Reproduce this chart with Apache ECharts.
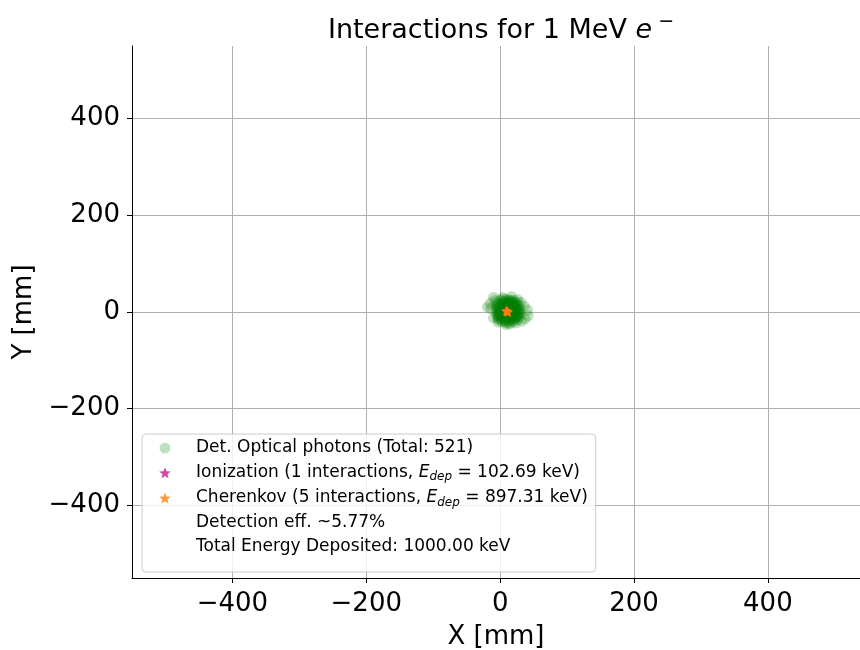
<!DOCTYPE html>
<html><head><meta charset="utf-8">
<script src="https://cdn.jsdelivr.net/npm/echarts@6/dist/echarts.min.js"></script>
<style>html,body{margin:0;padding:0;background:#fff}#c{width:860px;height:650px}</style>
</head><body><div id="c"></div>
<script>
// ---- data ----
const xTicks = [-400, -200, 0, 200, 400];
const yTicks = [-400, -200, 0, 200, 400];
// detected optical photons (x, y) in mm (overlapping points estimated)
const photonPoints = [
  [-10,30],[17,32],[31,20],[41,4],[42,-8],[32,-19],[23,-23],[9,-26],[-3,-21],[-14,7],
  [-15,18],[-19,10],[4,30],[-8,24],[36,12],[37,-14],[-10,-12],[14,-25],[26,26],
  [-5,20],[0,25],[5,27],[10,26],[15,25],[20,24],[25,20],[28,14],[30,6],[30,-3],
  [29,-10],[26,-16],[20,-20],[14,-22],[8,-22],[2,-20],[-3,-15],[-5,-8],[-6,0],[-6,8],
  [-5,14],[0,18],[6,20],[12,19],[18,18],[23,13],[25,5],[24,-4],[22,-11],[16,-15],
  [9,-16],[3,-13],[-1,-6],[0,3],[0,11],[5,12],[10,13],[16,11],[19,4],[18,-4],
  [14,-9],[7,-9],[4,-3],[5,5],[10,6],[14,2],[11,-3],[8,0],[12,8],[20,-10],
  [2,-10],[0,0],[5,5],[10,10],[15,5],[20,0],[25,-5],[15,-10],[5,-10],[0,10],
  [-3,5],[10,-5],[20,15],[25,10],[28,5],[27,-8],[18,-15],[8,-18],[-3,-12],[-4,-3],
  [2,18],[12,20],[22,20],[-2,2],[3,-4],[8,3],[13,-2],[17,8],[24,2],[6,12],
  [16,14],[-4,15],[28,-2],[24,16],[11,-13],[19,-6],[1,-15],[9,22],[17,22],[-4,8],
  [4,22],[14,0],[21,-16],[-1,-6],[7,7],[23,-12],[12,15],[2,12],[4,0],[9,-1],
  [14,4],[18,2],[22,6],[6,-6],[11,7],[16,-4],[20,10],[1,5],[8,14],[13,9],
  [3,-9],[24,-2],[10,18],[28,2],[15,-17],[6,-14],[19,18],[12,-8],[2,2],[17,-10],
  [7,17],[26,-10],[-3,-8],[9,-20],[14,24],[5,2],[10,4],[15,1],[20,4],[8,-3]
];
const ionizationPoints = [[8, 3]];
const cherenkovPoints = [[10,2],[11,1],[9,3],[12,0],[10,1]];

const names = {
  photons: 'Det. Optical photons (Total: 521)',
  ion: 'Ionization (1 interactions, Edep = 102.69 keV)',
  cher: 'Cherenkov (5 interactions, Edep = 897.31 keV)',
  eff: 'Detection eff. ~5.77%',
  tot: 'Total Energy Deposited: 1000.00 keV'
};
const richNames = {};
richNames[names.photons] = 'Det. Optical photons (Total: 521)';
richNames[names.ion] = 'Ionization (1 interactions, {it|E}{sub|dep} = 102.69 keV)';
richNames[names.cher] = 'Cherenkov (5 interactions, {it|E}{sub|dep} = 897.31 keV)';
richNames[names.eff] = 'Detection eff. ~5.77%';
richNames[names.tot] = 'Total Energy Deposited: 1000.00 keV';

const FONT = 'DejaVu Sans';
const star = 'path://M12,1 L14.9,8.6 L23,9 L16.7,14.2 L18.8,22 L12,17.6 L5.2,22 L7.3,14.2 L1,9 L9.1,8.6 Z';
const minus = v => String(v).replace('-', '\u2212');

const chart = echarts.init(document.getElementById('c'), null, {renderer: 'canvas'});
chart.setOption({
  animation: false,
  backgroundColor: '#fff',
  title: {
    text: 'Interactions for 1 MeV {e|e}{sup|\u2212}',
    left: 496, top: 8, textAlign: 'center',
    textStyle: {
      fontFamily: FONT, fontSize: 27, fontWeight: 'normal', color: '#000',
      rich: {
        e: {fontFamily: FONT, fontSize: 27, fontStyle: 'italic', color: '#000'},
        sup: {fontFamily: FONT, fontSize: 19, color: '#000', padding: [0, 0, 16, 6]}
      }
    }
  },
  grid: {left: 132, right: 0, top: 46, bottom: 72, containLabel: false, outerBoundsMode: 'none'},
  xAxis: {
    type: 'value', min: -550, max: 537.6,
    name: 'X [mm]', nameLocation: 'middle', nameGap: 46,
    nameTextStyle: {fontFamily: FONT, fontSize: 26, color: '#000'},
    axisLine: {show: true, onZero: false, lineStyle: {color: '#000', width: 1}},
    axisTick: {show: true, length: 5, inside: false, customValues: xTicks, lineStyle: {color: '#000'}},
    axisLabel: {customValues: xTicks, margin: 13, fontFamily: FONT, fontSize: 26, color: '#000', formatter: minus},
    splitLine: {show: true, lineStyle: {color: '#b0b0b0', width: 1}}
  },
  yAxis: {
    type: 'value', min: -550, max: 550,
    name: 'Y [mm]', nameLocation: 'middle', nameGap: 92, nameRotate: 90,
    nameTextStyle: {fontFamily: FONT, fontSize: 26, color: '#000'},
    axisLine: {show: true, onZero: false, lineStyle: {color: '#000', width: 1}},
    axisTick: {show: true, length: 5, inside: false, customValues: yTicks, lineStyle: {color: '#000'}},
    axisLabel: {customValues: yTicks, margin: 12, fontFamily: FONT, fontSize: 26, color: '#000',
      padding: [9, 0, 0, 0], formatter: minus},
    splitLine: {show: true, lineStyle: {color: '#b0b0b0', width: 1}}
  },
  legend: {
    orient: 'vertical', left: 142, top: 434,
    padding: [4, 8, 15, 10],
    itemWidth: 26, itemHeight: 11, itemGap: 4.25,
    backgroundColor: 'rgba(255,255,255,0.8)',
    borderColor: '#cccccc', borderWidth: 1, borderRadius: 4,
    data: [
      {name: names.photons, icon: 'circle', itemStyle: {color: 'rgba(0,128,0,0.3)'}},
      {name: names.ion, icon: star, itemStyle: {color: '#c51b8a'}},
      {name: names.cher, icon: star, itemStyle: {color: '#ff7f0e'}},
      {name: names.eff, icon: 'rect', itemStyle: {opacity: 0}},
      {name: names.tot, icon: 'rect', itemStyle: {opacity: 0}}
    ],
    formatter: n => richNames[n],
    textStyle: {
      fontFamily: FONT, fontSize: 17, color: '#000', lineHeight: 20, padding: [0, 0, 0, 13],
      rich: {
        it: {fontFamily: FONT, fontSize: 17, fontStyle: 'italic', color: '#000', lineHeight: 20},
        sub: {fontFamily: FONT, fontSize: 12, fontStyle: 'italic', color: '#000', lineHeight: 20, padding: [9, 0, 0, 0]}
      }
    }
  },
  series: [
    {name: names.photons, type: 'scatter', data: photonPoints, symbol: 'circle', symbolSize: 11,
     itemStyle: {color: 'rgba(0,128,0,0.3)'}, z: 2},
    {name: names.ion, type: 'scatter', data: ionizationPoints, symbol: star, symbolSize: 10,
     itemStyle: {color: '#c51b8a'}, z: 3},
    {name: names.cher, type: 'scatter', data: cherenkovPoints, symbol: star, symbolSize: 10,
     itemStyle: {color: '#ff7f0e'}, z: 4},
    {name: names.eff, type: 'scatter', data: []},
    {name: names.tot, type: 'scatter', data: []}
  ]
});
</script></body></html>
